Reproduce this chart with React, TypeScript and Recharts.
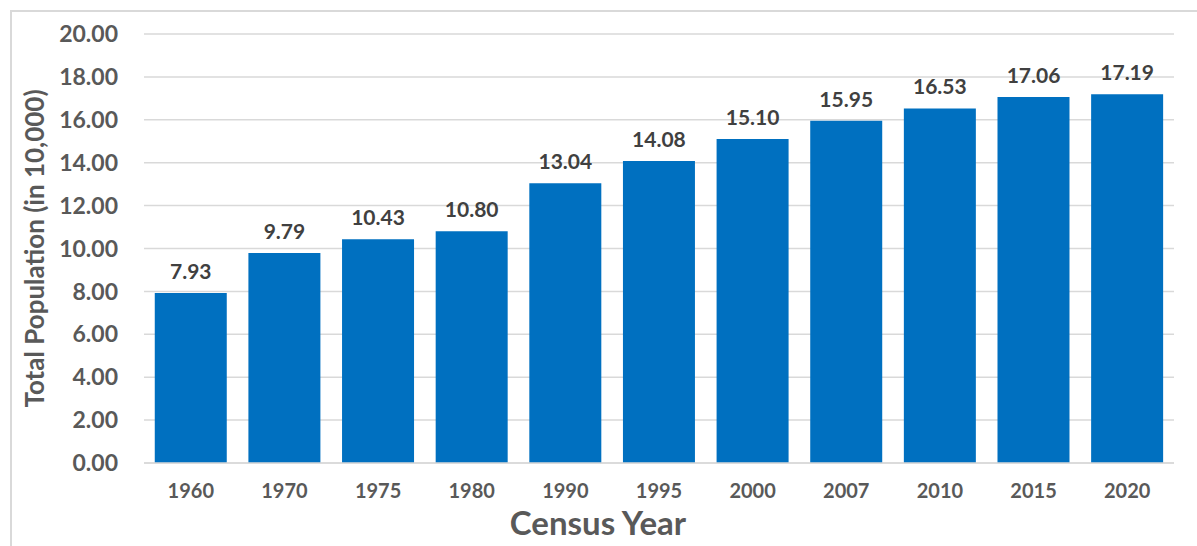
import { Bar, BarChart, CartesianGrid, LabelList, XAxis, YAxis } from "recharts";

const years = ["1960", "1970", "1975", "1980", "1990", "1995", "2000", "2007", "2010", "2015", "2020"];
const population = [7.93, 9.79, 10.43, 10.8, 13.04, 14.08, 15.1, 15.95, 16.53, 17.06, 17.19];
const yTicks = [0, 2, 4, 6, 8, 10, 12, 14, 16, 18, 20];

const data = years.map((year, i) => ({ year, population: population[i] }));

const font = "Lato, 'Open Sans', sans-serif";

export default function App() {
  return (
    <div style={{ position: "relative", width: 1197, height: 546, overflow: "hidden", fontFamily: font }}>
      <style>{"body{margin:0}"}</style>
      <div
        style={{
          position: "absolute",
          left: 10,
          top: 10,
          width: 1300,
          height: 700,
          borderLeft: "2px solid #d9d9d9",
          borderTop: "2px solid #d9d9d9",
        }}
      />
      <div style={{ position: "absolute", left: 0, top: 0 }}>
        <BarChart
          width={1197}
          height={546}
          data={data}
          margin={{ top: 34, right: 23, left: 0, bottom: 0 }}
          barCategoryGap="11.5%"
        >
          <CartesianGrid vertical={false} stroke="#d9d9d9" strokeWidth={1.5} />
          <XAxis
            dataKey="year"
            height={83}
            tickLine={false}
            tickSize={0}
            tickMargin={21}
            axisLine={{ stroke: "#d9d9d9", strokeWidth: 1.5 }}
            tick={{ fill: "#595959", fontSize: 20, fontWeight: 700, fontFamily: font }}
            label={{
              value: "Census Year",
              position: "insideBottom",
              offset: 11,
              dx: -61,
              fill: "#595959",
              fontSize: 33,
              fontWeight: 700,
              fontFamily: font,
            }}
          />
          <YAxis
            width={144}
            domain={[0, 20]}
            ticks={yTicks}
            tickFormatter={(v: number) => v.toFixed(2)}
            axisLine={false}
            tickLine={false}
            tickSize={0}
            tickMargin={26}
            tick={{ fill: "#595959", fontSize: 23, fontWeight: 700, fontFamily: font }}
            label={{
              value: "Total Population (in 10,000)",
              angle: -90,
              position: "insideLeft",
              offset: 35,
              style: { textAnchor: "middle" },
              fill: "#595959",
              fontSize: 26,
              fontWeight: 700,
              fontFamily: font,
            }}
          />
          <Bar dataKey="population" fill="#0070c0" isAnimationActive={false}>
            <LabelList
              dataKey="population"
              position="top"
              offset={14}
              formatter={(v: number) => v.toFixed(2)}
              fill="#404040"
              fontSize={21}
              fontWeight={700}
              fontFamily={font}
            />
          </Bar>
        </BarChart>
      </div>
    </div>
  );
}
